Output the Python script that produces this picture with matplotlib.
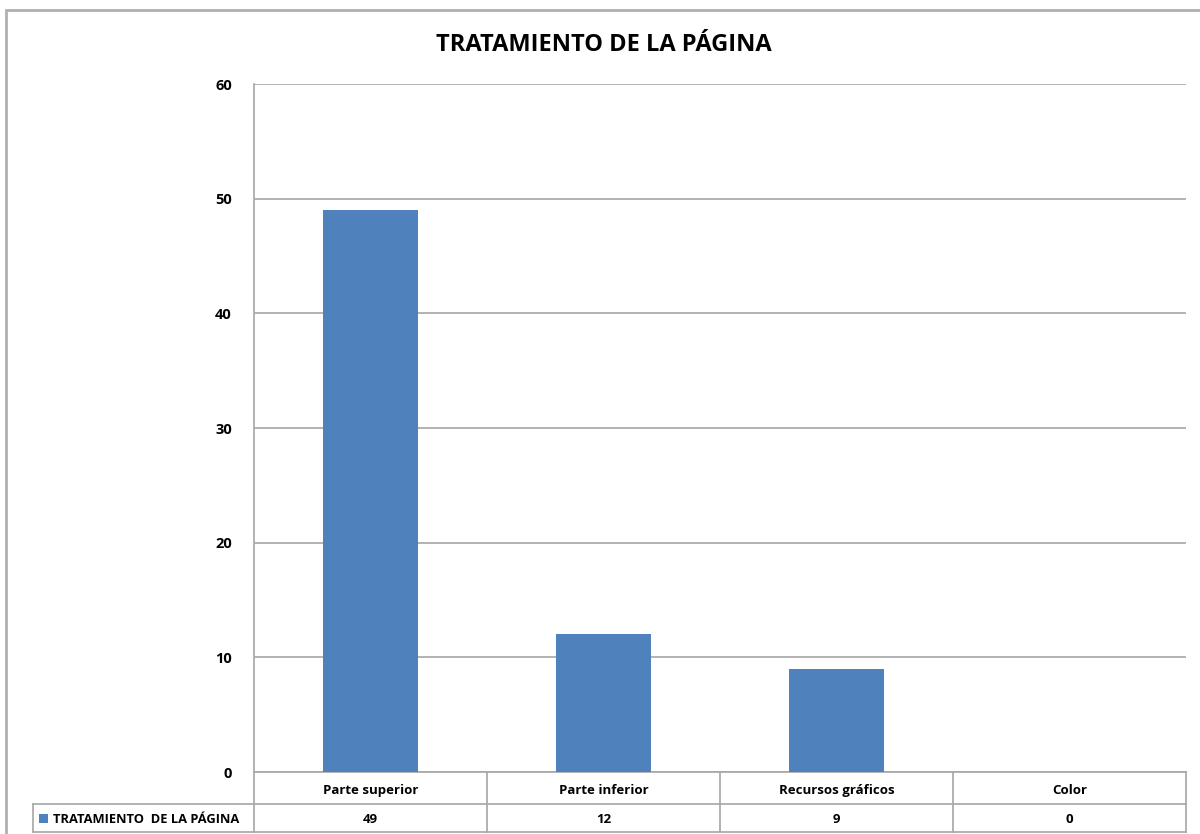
import matplotlib
matplotlib.use("Agg")
import matplotlib.pyplot as plt
from matplotlib.patches import Rectangle
from matplotlib.lines import Line2D
import matplotlib.transforms as mtransforms

categories = ["Parte superior", "Parte inferior", "Recursos gráficos", "Color"]
values = [49, 12, 9, 0]
series_name = "TRATAMIENTO  DE LA PÁGINA"
title = "TRATAMIENTO DE LA PÁGINA"
yticks = [0, 10, 20, 30, 40, 50, 60]

plt.rcParams['font.family'] = ['Open Sans', 'DejaVu Sans']

W, H = 1200, 834
fig = plt.figure(figsize=(12, 8.34), dpi=100)

# outer chart border
fig.patches.append(Rectangle((6 / W, -0.1), 1.2, 1 - 10 / H + 0.1, transform=fig.transFigure,
                             fill=False, edgecolor="#b0b0b0", linewidth=2))

left, right, top, bottom = 254, 1186, 84, 772
ax = fig.add_axes([left / W, 1 - bottom / H, (right - left) / W, (bottom - top) / H])

bar_color = "#4f81bd"
grid_c = "#a6a6a6"
x = list(range(len(categories)))
ax.bar(x, values, width=0.41, color=bar_color, zorder=3)
ax.set_xlim(-0.5, len(categories) - 0.5)
ax.set_ylim(0, 60)
ax.set_yticks(yticks)
ax.set_yticklabels([str(t) for t in yticks], fontsize=10.5, fontweight="bold")
ax.tick_params(axis="y", length=0, pad=16)
ax.set_xticks([])
ax.grid(axis="y", color=grid_c, linewidth=1.2, zorder=0)
for s in ["top", "right", "bottom"]:
    ax.spines[s].set_visible(False)
ax.spines["left"].set_color(grid_c)
ax.spines["left"].set_linewidth(1.2)

# data table drawn below the axes (x in data units, y in axes units)
axh = bottom - top
axw = right - left
r1 = -32 / axh   # bottom of category row
r2 = -60 / axh   # bottom of value row
blend = mtransforms.blended_transform_factory(ax.transData, ax.transAxes)
xmin, xmax = -0.5, len(categories) - 0.5
lab_left = -0.5 - (left - 33) / axw * len(categories)

def hline(x0, x1, y):
    ax.add_line(Line2D([x0, x1], [y, y], transform=blend, color=grid_c, lw=1.2, clip_on=False))

def vline(xx, y0, y1):
    ax.add_line(Line2D([xx, xx], [y0, y1], transform=blend, color=grid_c, lw=1.2, clip_on=False))

hline(xmin, xmax, 0)
hline(lab_left, xmax, r1)
hline(lab_left, xmax, r2)
for i in range(len(categories) + 1):
    vline(i - 0.5, 0, r2)
vline(lab_left, r1, r2)

base1 = -22 / axh
base2 = -51 / axh
for i, (cat, v) in enumerate(zip(categories, values)):
    ax.text(i, base1, cat, transform=blend, ha="center", va="baseline",
            fontsize=9.5, fontweight="bold")
    ax.text(i, base2, str(v), transform=blend, ha="center", va="baseline",
            fontsize=9.5, fontweight="bold")

key_x = lab_left + 6 / axw * len(categories)
ax.add_patch(Rectangle((key_x, (r1 + r2) / 2 - 4.5 / axh), 9 / axw * len(categories), 9 / axh,
                       transform=blend, facecolor=bar_color, edgecolor="none",
                       clip_on=False, zorder=5))
ax.text(key_x + 14 / axw * len(categories), base2, series_name, transform=blend,
        ha="left", va="baseline", fontsize=9.3, fontweight="bold")

fig.text(604 / W, 1 - 45 / H, title, ha="center", va="center", fontsize=17, fontweight="bold")

fig.savefig("out.png", dpi=100)
